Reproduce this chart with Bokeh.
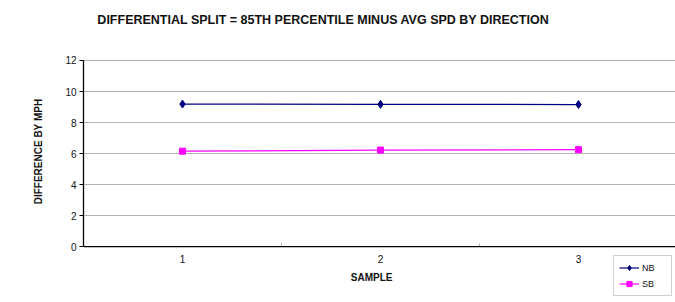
from bokeh.plotting import figure
from bokeh.models import FixedTicker, Range1d, Legend, LegendItem, Span, Label
from bokeh.core.properties import value
from bokeh.embed import file_html
from bokeh.resources import INLINE

samples = [1, 2, 3]
sample_labels = ["1", "2", "3"]
category_bounds = [1.5, 2.5]
nb = [9.19, 9.17, 9.16]
sb = [6.15, 6.22, 6.25]
y_ticks = [0, 2, 4, 6, 8, 10, 12]
title_text = "DIFFERENTIAL SPLIT = 85TH PERCENTILE MINUS AVG SPD BY DIRECTION"

FONT = "Liberation Sans"
TXT = "#111111"

# frame spans the full figure height; the value axis is bounded to 0..12
p = figure(width=675, height=302, output_backend="svg", toolbar_location=None,
           x_range=Range1d(0.5, 3.49), y_range=Range1d(-3.61, 15.87),
           x_axis_location=None,
           min_border_left=83, min_border_right=0, min_border_bottom=0, min_border_top=0)

p.outline_line_color = None
p.background_fill_color = "white"

# title
p.add_layout(Label(x=0.57, y=14.58, text=title_text, text_align="left",
                   text_baseline="middle", text_font=FONT, text_font_size="12.5px",
                   text_font_style="bold", text_color=TXT))

# y axis
p.yaxis.ticker = FixedTicker(ticks=y_ticks, minor_ticks=[])
p.yaxis.bounds = (0, 12)
p.yaxis.major_tick_out = 4
p.yaxis.major_tick_in = 0
p.yaxis.axis_line_color = "black"
p.yaxis.axis_line_width = 1.3
p.yaxis.major_label_text_font = FONT
p.yaxis.major_label_text_font_size = "10px"
p.yaxis.major_label_text_color = TXT
p.yaxis.major_label_standoff = 3
p.yaxis.axis_label = "DIFFERENCE BY MPH"
p.yaxis.axis_label_text_font = FONT
p.yaxis.axis_label_text_font_size = "10px"
p.yaxis.axis_label_text_font_style = "bold"
p.yaxis.axis_label_text_color = TXT
p.yaxis.axis_label_standoff = 18

p.xgrid.grid_line_color = None
p.ygrid.ticker = FixedTicker(ticks=y_ticks[1:])
p.ygrid.grid_line_color = "#b3b3b3"
p.ygrid.grid_line_width = 1

# category axis drawn inside the frame at y = 0
p.add_layout(Span(location=0, dimension="width", line_color="black", line_width=1.3))
p.segment(x0=category_bounds, y0=[0, 0], x1=category_bounds, y1=[0.2, 0.2],
          line_color="#b0b0b0", line_width=1)
p.text(x=samples, y=[0, 0, 0], text=sample_labels, y_offset=12,
       text_align="center", text_baseline="middle",
       text_font=value(FONT), text_font_size="10px", text_color=TXT)
p.add_layout(Label(x=1.955, y=0, y_offset=-31, text="SAMPLE",
                   text_align="center", text_baseline="middle",
                   text_font=FONT, text_font_size="10px", text_font_style="bold",
                   text_color=TXT))

# series
l1 = p.line(samples, nb, line_color="#000080", line_width=1.2)
m1 = p.scatter(samples, nb, marker="diamond", size=8, fill_color="#000080", line_color="#000080")
l2 = p.line(samples, sb, line_color="#FF00FF", line_width=1.2)
m2 = p.scatter(samples, sb, marker="square", size=6, fill_color="#FF00FF", line_color="#FF00FF")

legend = Legend(items=[LegendItem(label="NB", renderers=[l1, m1]),
                       LegendItem(label="SB", renderers=[l2, m2])],
                location=(530, 6))
legend.label_text_font = FONT
legend.label_text_font_size = "9px"
legend.label_text_color = TXT
legend.border_line_color = "#a0a0a0"
legend.border_line_width = 1
legend.padding = 5
legend.spacing = 3
legend.margin = 0
legend.glyph_width = 20
legend.glyph_height = 13
legend.label_height = 13
legend.label_width = 24
legend.label_standoff = 3
legend.background_fill_alpha = 1
p.add_layout(legend, "center")

open("out.html", "w").write(file_html(p, INLINE))
